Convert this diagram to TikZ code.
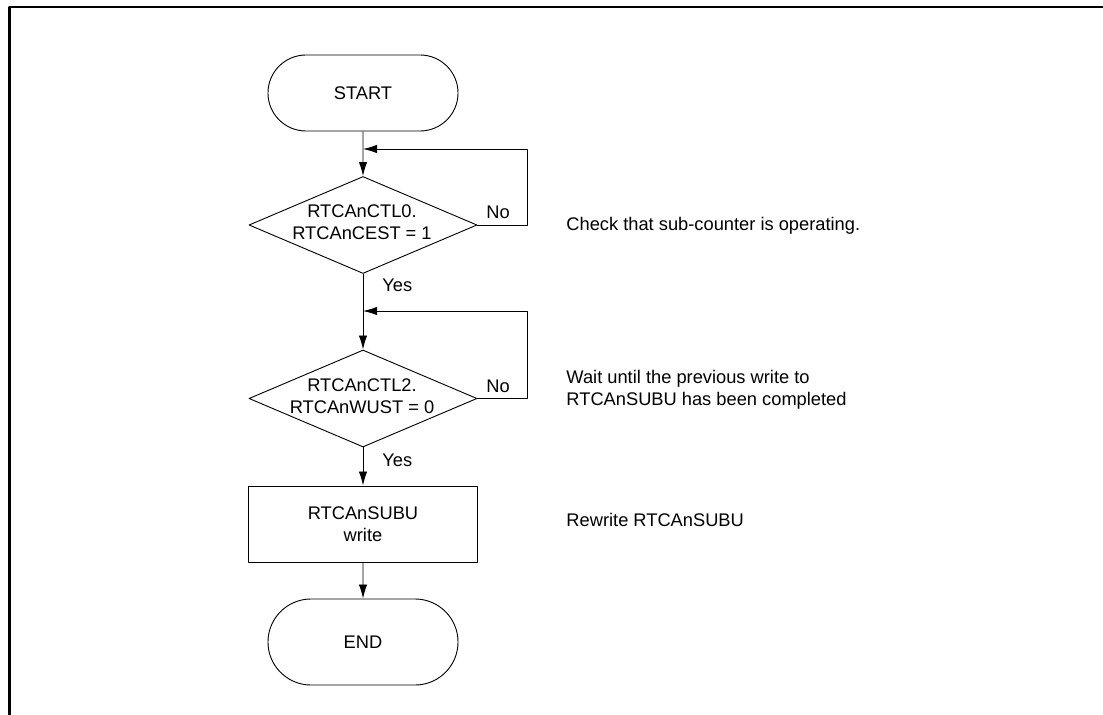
\documentclass[tikz,border=0pt]{standalone}
\usepackage{fontspec}
\setmainfont{Liberation Sans}
\usetikzlibrary{arrows.meta,shapes.geometric,shapes.misc}

\tikzset{
  terminal/.style={draw, rounded rectangle, minimum width=4.75cm, inner sep=0pt},
  decision/.style={draw, diamond, minimum width=5.7cm, minimum height=2.425cm, inner sep=0pt},
  process/.style={draw, rectangle, minimum width=5.725cm, minimum height=1.9cm, align=center},
  flow/.style={-{Latex[length=0.35cm,width=0.21cm]}},
  remark/.style={anchor=west, align=left, inner sep=0pt}
}

\begin{document}
\begin{tikzpicture}[x=0.025cm, y=-0.025cm, line width=0.65pt, line join=round,
    font=\fontsize{13}{15.8}\selectfont]
			\useasboundingbox (0,0) rectangle (1103,715);
			% Khung
			\draw[line width=2pt] (9.5,715) -- (9.5,7) -- (1103,7);
			
			% Các khối
			\node[terminal, minimum height=1.9cm] (start) at (363,93) {START};
			\node[decision] (d1) at (363,225) {};
			\node[align=center] (t1) at (362,222.5) {RTCAnCTL0.\\RTCAnCEST = 1};
			\node[decision] (d2) at (363,398.5) {};
			\node[align=center] (t2) at (362,396) {RTCAnCTL2.\\RTCAnWUST = 0};
			\node[process] (sub) at (363,524) {RTCAnSUBU\\write};
			\node[terminal, minimum height=2.15cm] (end) at (363,642) {END};
			
			% Điểm nối của vòng lặp
			\coordinate (j1) at (363,149);
			\coordinate (c1) at (527,149);
			\coordinate (j2) at (363,311);
			\coordinate (c2) at (527,311);
			
			% Các đường nối
			\draw[flow] (start) -- (d1);
			\draw[flow] (d1.east) -| (c1) -- (j1);
			\draw[flow] (d1) -- (d2);
			\draw[flow] (d2.east) -| (c2) -- (j2);
			\draw[flow] (d2) -- (sub);
			\draw[flow] (sub) -- (end);
			
			% Nhãn Yes/No
			\node (no1) at (498,212) {No};
			\node (no2) at (498,386) {No};
			\node[anchor=west, inner sep=0pt] (yes1) at (382,285) {Yes};
			\node[anchor=west, inner sep=0pt] (yes2) at (382,460) {Yes};
			
			% Ghi chú bên phải
			\node[remark] (r1) at (566,226) {Check that sub-counter is operating.};
			\node[remark] (r2) at (566,390) {Wait until the previous write to\\RTCAnSUBU has been completed};
			\node[remark] (r3) at (566,520) {Rewrite RTCAnSUBU};
		\end{tikzpicture}
\end{document}
